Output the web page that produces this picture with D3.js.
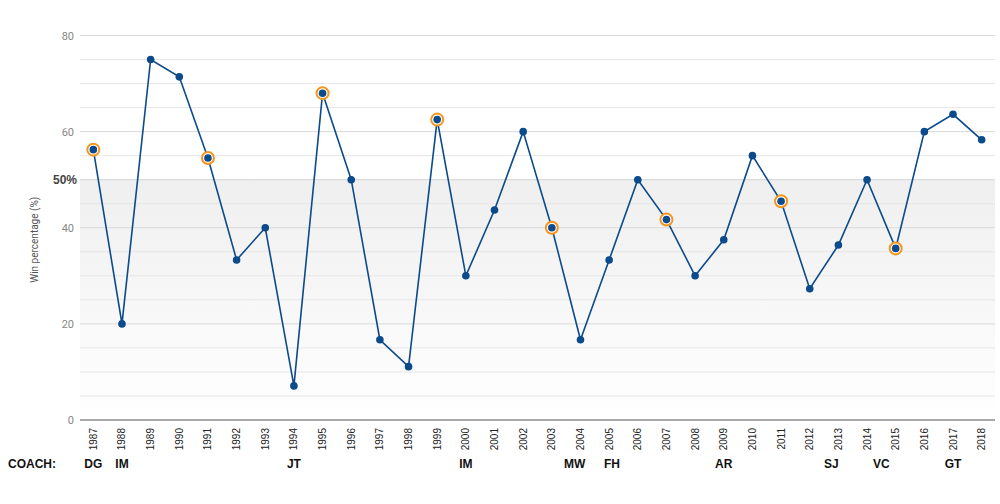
<!DOCTYPE html>
<html><head><meta charset="utf-8">
<script src="https://cdn.jsdelivr.net/npm/d3@7"></script>
<style>body{margin:0;background:#fff;}svg{display:block;font-family:"Liberation Sans",Arial,sans-serif;}</style>
</head><body><svg id="c" width="1000" height="504"></svg>
<script>
const years = [1987,1988,1989,1990,1991,1992,1993,1994,1995,1996,1997,1998,1999,2000,2001,2002,2003,2004,2005,2006,2007,2008,2009,2010,2011,2012,2013,2014,2015,2016,2017,2018];
const winPct = [56.25,20,75,71.4,54.5,33.3,40,7.1,68,50,16.7,11.1,62.5,30,43.7,60,40,16.7,33.3,50,41.7,30,37.5,55,45.5,27.3,36.4,50,35.7,60,63.6,58.3];
const highlighted = [1987,1991,1995,1999,2003,2007,2011,2015];
const coachNames = ["DG","IM","JT","IM","MW","FH","AR","SJ","VC","GT"];
const coachYears = [1987,1988,1994,2000,2003.8,2005.1,2009,2012.75,2014.5,2017];
const yTicks = [0,20,40,60,80];
const yMinorTicks = [5,10,15,25,30,35,45,55,65,70,75];

const svg = d3.select("#c");
const L = 80, R = 995, T = 35.5, B = 420;
const x = d3.scaleBand().domain(years).range([79, 996]);
const xc = d => x(d) + x.bandwidth()/2;
const xLin = d3.scaleLinear().domain([years[0], years[years.length-1]]).range([xc(years[0]), xc(years[years.length-1])]);
const y = d3.scaleLinear().domain([0,80]).range([B, T]);

const defs = svg.append("defs");
const g = defs.append("linearGradient").attr("id","band").attr("x1",0).attr("x2",0).attr("y1",0).attr("y2",1);
g.append("stop").attr("offset","0%").attr("stop-color","#efefef");
g.append("stop").attr("offset","100%").attr("stop-color","#ffffff");
svg.append("rect").attr("x",L).attr("width",R-L).attr("y",y(50)).attr("height",y(0)-y(50)).attr("fill","url(#band)");

svg.append("g").selectAll("line").data(yMinorTicks).join("line")
  .attr("x1",L).attr("x2",R).attr("y1",d=>y(d)).attr("y2",d=>y(d))
  .attr("stroke","#e6e6e6").attr("stroke-width",1);
svg.append("g").selectAll("line").data(yTicks.filter(d=>d>0)).join("line")
  .attr("x1",L).attr("x2",R).attr("y1",d=>y(d)).attr("y2",d=>y(d))
  .attr("stroke","#d9d9d9").attr("stroke-width",1);
svg.append("line").attr("x1",L).attr("x2",R).attr("y1",y(50)).attr("y2",y(50)).attr("stroke","#d4d4d4");

const yAxis = d3.axisLeft(y).tickValues(yTicks).tickSize(0).tickPadding(6);
const ya = svg.append("g").attr("transform",`translate(${L},0)`).call(yAxis);
ya.select(".domain").remove();
ya.selectAll("text").attr("fill","#888").style("font-size","11px").style("font-family","Roboto, 'Liberation Sans', Arial, sans-serif");
svg.append("text").attr("x",L-3).attr("y",y(50)).attr("dy","0.35em").attr("text-anchor","end")
  .attr("fill","#444").style("font-size","12px").style("font-weight","bold").text("50%");

svg.append("text").attr("transform",`translate(38,${(T+B)/2+12}) rotate(-90)`).attr("text-anchor","middle")
  .attr("fill","#555").style("font-size","10px").style("font-family","Roboto, 'Liberation Sans', Arial, sans-serif").text("Win percentage (%)");

const xAxis = d3.axisBottom(x).tickSize(0).tickPadding(0);
const xa = svg.append("g").attr("transform",`translate(0,${B})`).call(xAxis);
xa.select(".domain").remove();
xa.selectAll("text").attr("transform","rotate(-90)").attr("text-anchor","end").attr("x",-8).attr("y",0).attr("dy","0.35em")
  .attr("fill","#222").style("font-size","10px");
svg.append("line").attr("x1",L).attr("x2",R).attr("y1",B).attr("y2",B).attr("stroke","#555").attr("stroke-width",1.2);

const data = years.map((yr,i)=>({yr, v:winPct[i]}));
svg.append("path").datum(data).attr("fill","none").attr("stroke","#0b4a8b").attr("stroke-width",1.6)
  .attr("d", d3.line().x(d=>xc(d.yr)).y(d=>y(d.v)));
svg.append("g").selectAll("circle").data(data.filter(d=>highlighted.includes(d.yr))).join("circle")
  .attr("cx",d=>xc(d.yr)).attr("cy",d=>y(d.v)).attr("r",6).attr("fill","#fff").attr("stroke","#f7941d").attr("stroke-width",2);
svg.append("g").selectAll("circle").data(data).join("circle")
  .attr("cx",d=>xc(d.yr)).attr("cy",d=>y(d.v)).attr("r",3.8).attr("fill","#0b4a8b");

svg.append("text").attr("x",8).attr("y",468).attr("fill","#111").style("font-size","12px").style("font-weight","bold").text("COACH:");
svg.append("g").selectAll("text").data(coachNames).join("text")
  .attr("x",(d,i)=>xLin(coachYears[i])).attr("y",468).attr("text-anchor","middle")
  .attr("fill","#111").style("font-size","12px").style("font-weight","bold").text(d=>d);
</script></body></html>
